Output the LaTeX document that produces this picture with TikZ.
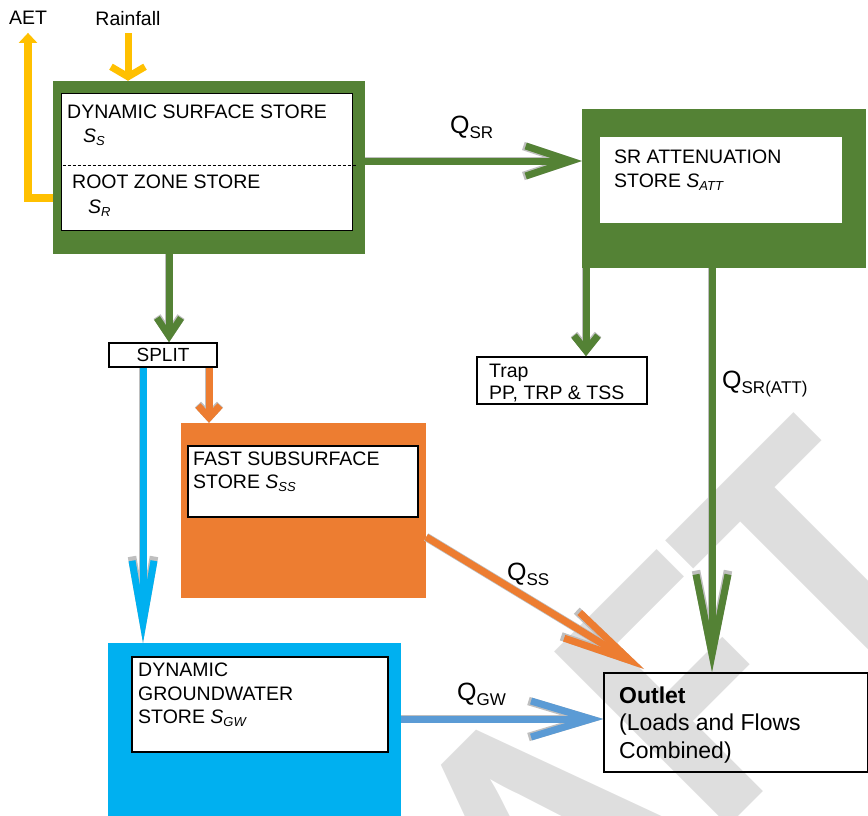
\documentclass[tikz,border=0pt]{standalone}
\usepackage{fontspec}
\setmainfont{Liberation Sans}
\newfontfamily\draftfont{Carlito}
\usetikzlibrary{arrows.meta,calc}

\definecolor{storegreen}{HTML}{548235}
\definecolor{fastorange}{HTML}{ED7D31}
\definecolor{gwblue}{HTML}{00B0F0}
\definecolor{gwarrow}{HTML}{5B9BD5}
\definecolor{rainyellow}{HTML}{FFC000}
\definecolor{draftgray}{HTML}{DEDEDE}

\newcommand{\storesym}[1]{\textit{S\raisebox{-0.2em}{\fontsize{13}{13}\selectfont #1}}}
\newcommand{\flowsym}[1]{Q\raisebox{-0.22em}{\fontsize{17}{17}\selectfont #1}}

\tikzset{
  store/.style={inner sep=0pt, draw=none},
  inbox/.style={fill=white, inner sep=0pt},
  txt/.style={inner sep=0pt, anchor=base west, font=\fontsize{19.5}{23}\selectfont},
  bigtxt/.style={inner sep=0pt, anchor=base west, font=\fontsize{23}{27}\selectfont},
  flowlab/.style={inner sep=0pt, anchor=base west, font=\fontsize{25}{30}\selectfont},
  flow/.style={line width=7pt, preaction={draw=gray!50, line width=8.5pt}},
}

\begin{document}
\begin{tikzpicture}[x=1pt,y=-1pt]
	\useasboundingbox (0,0) rectangle (868,816);
	\node[rotate=45, anchor=base, text=draftgray, inner sep=0pt, font=\fontsize{380}{380}\draftfont\bfseries] (draft) at (601,954) {DRAFT};

	% stores
	\node[store, fill=storegreen, minimum width=312pt, minimum height=173pt] (surf) at (209,167.5) {};
	\node[inbox, draw=black, line width=1pt, minimum width=291pt, minimum height=136pt] (surfin) at (206.5,162) {};
	\draw[dash pattern=on 3pt off 2pt, line width=0.8pt] ([xshift=2pt,yshift=-3pt]surfin.west) -- ([xshift=3pt,yshift=-3pt]surfin.east);
	\node[txt] (surft) at (67,118) {DYNAMIC SURFACE STORE};
	\node[txt] (surfs) at (83,142) {\storesym{S}};
	\node[txt] (roott) at (72,188) {ROOT ZONE STORE};
	\node[txt] (roots) at (88,213) {\storesym{R}};

	\node[store, fill=storegreen, minimum width=284pt, minimum height=159pt] (att) at (724,188.5) {};
	\node[inbox, minimum width=242pt, minimum height=86pt] (attin) at (721,180) {};
	\node[txt] (attt) at (614,163) {SR ATTENUATION};
	\node[txt] (atts) at (614,187) {STORE \storesym{ATT}};

	\node[inbox, draw=black, line width=1.5pt, minimum width=170pt, minimum height=47pt] (trap) at (562,380.5) {};
	\node[txt] (trapt) at (489,377) {Trap};
	\node[txt] (traps) at (489,399) {PP, TRP \& TSS};

	\node[inbox, draw=black, line width=1.5pt, minimum width=108pt, minimum height=24pt, font=\fontsize{19}{23}\selectfont] (split) at (163,355) {SPLIT};

	\node[store, fill=fastorange, minimum width=245pt, minimum height=175pt] (fast) at (303.5,510.5) {};
	\node[inbox, draw=black, line width=2pt, minimum width=230pt, minimum height=71pt] (fastin) at (303,481.5) {};
	\node[txt] (fastt) at (193,465) {FAST SUBSURFACE};
	\node[txt] (fasts) at (193,488) {STORE \storesym{SS}};

	\node[store, fill=gwblue, minimum width=293pt, minimum height=180pt] (gw) at (254.5,733) {};
	\node[inbox, draw=black, line width=2pt, minimum width=256pt, minimum height=95pt] (gwin) at (260,704.5) {};
	\node[txt] (gwt1) at (138,676) {DYNAMIC};
	\node[txt] (gwt2) at (138,700) {GROUNDWATER};
	\node[txt] (gwt3) at (138,723) {STORE \storesym{GW}};

	\node[draw=black, line width=1.5pt, inner sep=0pt, minimum width=264pt, minimum height=99pt] (outlet) at (736,722.5) {};
	\node[bigtxt, font=\fontsize{23}{27}\selectfont\bfseries] (outt) at (619,703) {Outlet};
	\node[bigtxt] (outl1) at (619,730) {(Loads and Flows};
	\node[bigtxt] (outl2) at (619,758) {Combined)};

	\node[inner sep=0pt, font=\fontsize{19.5}{23}\selectfont] (aet) at (28,18) {AET};
	\node[inner sep=0pt, font=\fontsize{19.5}{23}\selectfont] (rain) at (128,19) {Rainfall};

	% flow labels
	\node[flowlab] (qsr) at (450,133) {\flowsym{SR}};
	\node[flowlab] (qatt) at (722,388) {\flowsym{SR(ATT)}};
	\node[flowlab] (qss) at (507,580) {\flowsym{SS}};
	\node[flowlab] (qgw) at (457,700) {\flowsym{GW}};

	% flows
	\draw[rainyellow, line width=8pt, -{Triangle[length=10pt,width=18pt]}] ([yshift=-30.5pt]surf.west) -| ([yshift=-8pt]aet.south);
	\draw[rainyellow, line width=7pt, -{Straight Barb[length=10pt,width=34pt]}] ([yshift=-7pt]rain.south) -- (rain.south |- surf.north);

	\draw[flow, storegreen, -{Straight Barb[length=45pt,width=30pt]}] ([yshift=6.5pt]surf.east) -- ([yshift=6.5pt]surf.east -| att.west);
	\draw[flow, storegreen, -{Straight Barb[length=80pt,width=32pt]}] ([xshift=-12pt]att.south) -- ([xshift=-12pt]att.south |- outlet.north);
	\draw[flow, storegreen, -{Straight Barb[length=15pt,width=24pt]}] ([xshift=24pt]trap.north |- att.south) -- ([xshift=24pt]trap.north);
	\draw[flow, storegreen, -{Straight Barb[length=18pt,width=24pt]}] ([xshift=6pt]split.north |- surf.south) -- ([xshift=6pt]split.north);
	\draw[flow, gwblue, -{Straight Barb[length=62pt,width=22pt]}] ([xshift=-20pt]split.south) -- ([xshift=-20pt]split.south |- gw.north);
	\draw[flow, fastorange, -{Straight Barb[length=12pt,width=22pt]}] ([xshift=46pt]split.south) -- ([xshift=46pt]split.south |- fast.north);
	\coordinate (ssend) at (644,669);
	\draw[flow, fastorange, -{Straight Barb[length=68pt,width=30pt]}] ([yshift=-26.5pt]fast.east) -- (ssend);
	\draw[flow, gwarrow, -{Straight Barb[length=60pt,width=36pt]}] ([yshift=3.5pt]outlet.west -| gw.east) -- ([yshift=3.5pt]outlet.west);
\end{tikzpicture}
\end{document}
